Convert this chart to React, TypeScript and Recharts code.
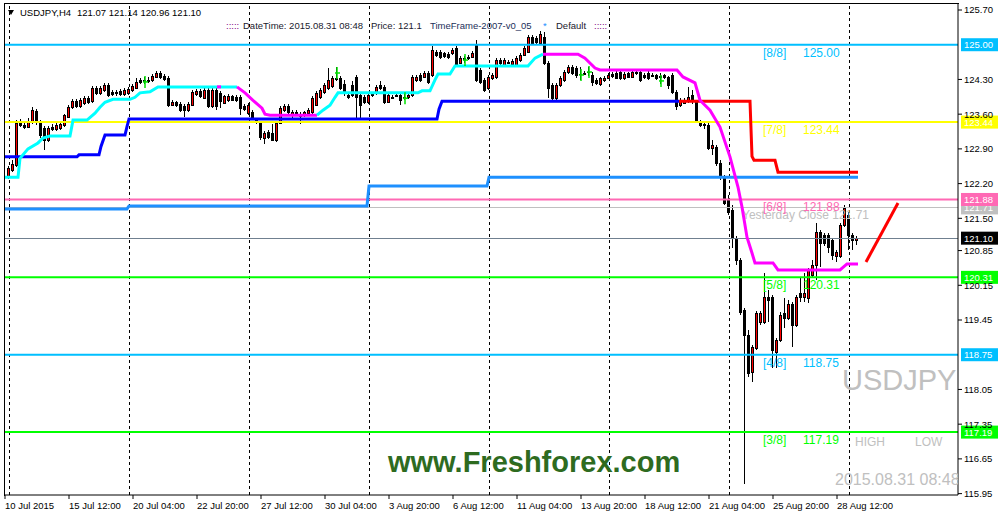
import React from 'react';
import { ComposedChart, Bar, Line, Scatter, XAxis, YAxis, ReferenceLine } from 'recharts';

const FONT = '"Liberation Sans", Arial, sans-serif';

// H4 bars, index 0 = Mon 13 Jul 00:00 ... 212 = Mon 31 Aug 08:00
// [open, high, low, close]
const ohlc: [number, number, number, number][] = [
  // week 13 Jul
  [122.33, 122.55, 122.29, 122.51], [122.47, 122.67, 122.43, 122.59], [122.57, 123.48, 122.53, 123.42],
  [123.42, 123.50, 123.34, 123.38], [123.38, 123.44, 123.30, 123.34], [123.34, 123.52, 123.32, 123.44],
  [123.44, 123.74, 123.40, 123.68], [123.66, 123.70, 123.38, 123.44], [123.44, 123.48, 123.12, 123.18],
  [123.32, 123.36, 122.88, 123.08], [123.08, 123.36, 123.04, 123.32], [123.34, 123.40, 123.26, 123.30],
  [123.30, 123.42, 123.26, 123.38], [123.32, 123.44, 123.28, 123.40], [123.38, 123.60, 123.34, 123.58],
  [123.54, 123.78, 123.52, 123.74], [123.74, 123.90, 123.70, 123.86], [123.86, 123.90, 123.72, 123.76],
  [123.76, 123.92, 123.72, 123.88], [123.82, 123.96, 123.78, 123.92], [123.92, 123.96, 123.80, 123.84],
  [123.86, 124.17, 123.82, 124.13], [124.13, 124.17, 123.98, 124.03], [124.03, 124.17, 123.98, 124.13],
  [124.09, 124.23, 124.05, 124.19], [124.19, 124.23, 123.94, 123.98], [124.05, 124.09, 123.96, 124.01],
  [124.03, 124.09, 123.96, 124.05], [124.07, 124.11, 123.96, 124.01], [124.01, 124.13, 123.96, 124.09],
  // week 20 Jul
  [124.03, 124.15, 123.98, 124.11], [124.09, 124.21, 124.05, 124.17], [124.13, 124.33, 124.11, 124.25],
  [124.29, 124.33, 124.21, 124.25], [124.27, 124.35, 124.21, 124.29], [124.29, 124.35, 124.23, 124.27],
  [124.29, 124.41, 124.25, 124.37], [124.35, 124.47, 124.33, 124.43], [124.43, 124.47, 124.31, 124.35],
  [124.37, 124.41, 124.27, 124.31], [124.33, 124.37, 123.74, 123.78], [123.78, 123.88, 123.76, 123.84],
  [123.84, 123.86, 123.74, 123.78], [123.80, 123.84, 123.64, 123.68], [123.76, 123.80, 123.54, 123.68],
  [123.68, 123.84, 123.64, 123.80], [123.78, 124.09, 123.76, 124.05], [124.01, 124.11, 123.96, 124.07],
  [124.07, 124.11, 123.92, 123.96], [123.92, 124.13, 123.90, 124.09], [124.09, 124.13, 123.72, 123.76],
  [123.76, 124.13, 123.72, 124.09], [124.09, 124.13, 123.68, 123.76], [124.03, 124.07, 123.72, 123.86],
  [123.82, 123.98, 123.80, 123.96], [123.88, 124.01, 123.84, 123.96], [123.96, 123.98, 123.86, 123.88],
  [123.94, 123.98, 123.84, 123.88], [123.94, 123.98, 123.58, 123.72], [123.76, 123.80, 123.66, 123.70],
  // week 27 Jul
  [123.62, 123.82, 123.58, 123.78], [123.64, 123.68, 123.48, 123.52], [123.48, 123.52, 123.40, 123.46],
  [123.42, 123.46, 123.08, 123.14], [123.12, 123.26, 123.00, 123.22], [123.24, 123.28, 123.10, 123.14],
  [123.22, 123.40, 123.06, 123.08], [123.08, 123.46, 123.04, 123.42], [123.42, 123.76, 123.40, 123.72],
  [123.68, 123.80, 123.64, 123.76], [123.76, 123.80, 123.60, 123.64], [123.58, 123.68, 123.48, 123.64],
  [123.64, 123.68, 123.56, 123.60], [123.58, 123.64, 123.40, 123.56], [123.58, 123.66, 123.54, 123.64],
  [123.62, 123.72, 123.58, 123.68], [123.64, 123.96, 123.60, 123.92], [123.78, 124.07, 123.76, 124.03],
  [123.94, 124.13, 123.90, 124.09], [124.05, 124.23, 124.01, 124.19], [124.13, 124.53, 124.09, 124.29],
  [124.17, 124.37, 124.13, 124.33], [124.33, 124.55, 124.27, 124.31], [124.33, 124.37, 124.09, 124.13],
  [124.21, 124.29, 123.96, 124.03], [123.98, 124.03, 123.90, 123.94], [124.19, 124.27, 123.94, 123.98],
  [124.35, 124.39, 123.52, 123.94], [123.98, 124.03, 123.52, 123.78], [123.94, 123.98, 123.80, 123.84],
  // week 3 Aug
  [123.84, 124.03, 123.80, 123.98], [123.98, 124.05, 123.94, 124.01], [124.03, 124.19, 123.98, 124.15],
  [124.19, 124.27, 124.09, 124.13], [124.15, 124.19, 123.80, 123.84], [123.84, 124.03, 123.82, 123.98],
  [123.94, 123.98, 123.90, 123.92], [123.96, 124.03, 123.94, 123.98], [123.98, 124.03, 123.78, 123.88],
  [123.94, 124.03, 123.88, 123.93], [123.94, 124.03, 123.90, 123.98], [123.98, 124.39, 123.94, 124.35],
  [124.29, 124.39, 124.25, 124.35], [124.39, 124.43, 124.25, 124.29], [124.35, 124.47, 124.33, 124.43],
  [124.43, 124.47, 124.21, 124.25], [124.39, 124.97, 124.35, 124.89], [124.85, 124.89, 124.75, 124.79],
  [124.85, 124.89, 124.71, 124.75], [124.83, 124.85, 124.73, 124.77], [124.81, 124.85, 124.71, 124.75],
  [124.83, 124.93, 124.79, 124.89], [124.93, 124.97, 124.55, 124.59], [124.63, 124.77, 124.61, 124.73],
  [124.73, 124.77, 124.63, 124.71], [124.75, 124.79, 124.69, 124.73], [124.75, 124.87, 124.73, 124.83],
  [125.01, 125.09, 124.25, 124.29], [124.49, 124.53, 124.21, 124.25], [124.29, 124.33, 124.05, 124.09],
  // week 10 Aug
  [124.13, 124.39, 124.09, 124.35], [124.33, 124.43, 124.29, 124.39], [124.35, 124.73, 124.31, 124.69],
  [124.69, 124.73, 124.59, 124.63], [124.59, 124.73, 124.57, 124.69], [124.63, 124.69, 124.61, 124.65],
  [124.61, 124.71, 124.59, 124.67], [124.59, 124.77, 124.57, 124.73], [124.69, 124.83, 124.65, 124.79],
  [124.79, 124.97, 124.77, 124.93], [124.85, 125.19, 124.83, 125.15], [125.15, 125.19, 124.99, 125.03],
  [125.13, 125.17, 125.01, 125.05], [125.03, 125.28, 124.99, 125.21], [125.15, 125.26, 124.59, 124.63],
  [124.63, 124.67, 123.92, 124.13], [124.19, 124.23, 123.84, 123.92], [123.92, 124.23, 123.88, 124.19],
  [124.19, 124.37, 124.15, 124.33], [124.29, 124.49, 124.25, 124.45], [124.45, 124.59, 124.41, 124.55],
  [124.55, 124.59, 124.39, 124.43], [124.53, 124.57, 124.33, 124.39], [124.41, 124.55, 124.29, 124.40],
  [124.41, 124.47, 124.39, 124.43], [124.45, 124.55, 124.37, 124.44], [124.39, 124.45, 124.17, 124.25],
  [124.29, 124.33, 124.19, 124.23], [124.21, 124.35, 124.17, 124.33], [124.29, 124.37, 124.25, 124.33],
  // week 17 Aug
  [124.33, 124.43, 124.31, 124.39], [124.41, 124.45, 124.33, 124.37], [124.43, 124.47, 124.31, 124.33],
  [124.45, 124.49, 124.29, 124.33], [124.33, 124.45, 124.29, 124.41], [124.43, 124.45, 124.33, 124.35],
  [124.35, 124.47, 124.33, 124.45], [124.45, 124.49, 124.39, 124.43], [124.45, 124.49, 124.25, 124.29],
  [124.39, 124.43, 124.31, 124.35], [124.43, 124.47, 124.29, 124.33], [124.39, 124.43, 124.35, 124.37],
  [124.39, 124.41, 124.29, 124.33], [124.35, 124.43, 124.21, 124.36], [124.39, 124.41, 124.31, 124.35],
  [124.35, 124.37, 124.11, 124.19], [124.39, 124.43, 124.01, 124.05], [124.05, 124.09, 123.68, 123.76],
  [123.78, 123.92, 123.74, 123.88], [123.82, 123.92, 123.80, 123.88], [123.88, 124.15, 123.82, 123.94],
  [123.98, 124.09, 123.80, 123.86], [123.84, 123.88, 123.42, 123.48], [123.44, 123.48, 123.34, 123.38],
  [123.40, 123.44, 123.30, 123.38], [123.38, 123.42, 122.88, 122.92], [122.92, 123.08, 122.78, 122.98],
  [122.94, 122.98, 122.55, 122.61], [122.61, 122.67, 122.27, 122.33], [122.33, 122.37, 121.77, 121.81],
  // week 24 Aug
  [121.87, 121.97, 121.56, 121.63], [121.67, 121.77, 120.90, 121.10], [121.10, 121.14, 120.56, 120.66],
  [120.66, 120.70, 119.55, 119.61], [119.65, 119.69, 116.14, 119.15], [119.15, 119.25, 118.30, 118.38],
  [118.40, 118.95, 118.20, 118.90], [118.88, 119.63, 118.84, 119.59], [119.41, 119.63, 119.35, 119.59],
  [119.41, 120.40, 119.37, 119.91], [119.91, 120.05, 119.41, 119.85], [119.91, 119.95, 118.48, 118.84],
  [118.80, 119.09, 118.48, 119.05], [119.05, 119.61, 119.01, 119.55], [119.59, 119.89, 119.29, 119.49],
  [119.49, 119.85, 119.45, 119.77], [119.77, 119.81, 118.90, 119.35], [119.35, 119.95, 119.31, 119.91],
  [119.99, 120.32, 119.81, 119.91], [119.91, 120.40, 119.81, 119.99], [119.89, 120.50, 119.79, 120.46],
  [120.36, 120.66, 120.32, 120.56], [120.56, 121.40, 120.26, 121.22], [121.22, 121.26, 120.52, 121.00],
  [121.16, 121.20, 120.94, 121.00], [121.16, 121.20, 120.80, 120.92], [121.06, 121.10, 120.66, 120.76],
  [120.74, 120.86, 120.62, 120.82], [120.74, 121.40, 120.70, 121.36], [121.36, 121.77, 121.32, 121.71],
  // 31 Aug
  [121.56, 121.63, 120.86, 121.16], [121.16, 121.20, 120.86, 121.06], [121.07, 121.14, 120.96, 121.10],
];

// indicator lines as [bar index, price]
const trendUp: [number, number][] = [
  [-1, 122.74], [17, 122.74], [17.5, 122.78], [22.5, 122.78], [23, 122.95], [24, 123.18], [29, 123.18],
  [29.5, 123.35], [30, 123.5], [107, 123.5], [107.5, 123.7], [108.25, 123.86], [167.5, 123.86],
];
const trendDown: [number, number][] = [
  [167.5, 123.86], [185.25, 123.86], [185.75, 122.75], [186.25, 122.67], [191.5, 122.67],
  [192.25, 122.43], [212.25, 122.43],
];
const stopLine: [number, number][] = [
  [-1, 121.69], [29.5, 121.69], [30, 121.75], [89.5, 121.75], [90, 122.15], [119.5, 122.15],
  [120, 122.33], [212.25, 122.33],
];
const cyan1: [number, number][] = [
  [-1, 122.33], [2.25, 122.33], [2.75, 122.71], [4.75, 122.9], [7.25, 123.02], [8.5, 123.12],
  [10.25, 123.16], [15.25, 123.16], [16, 123.48], [19.5, 123.48], [21.5, 123.62], [22.75, 123.74],
  [24, 123.84], [26, 123.9], [30.25, 123.9], [31.5, 123.94], [32.75, 124.03], [35.25, 124.05],
  [37.25, 124.15], [57, 124.15],
];
const magenta0: [number, number][] = [[52, 124.15], [53, 124.15]];
const magenta1: [number, number][] = [
  [57, 124.15], [59, 124.03], [61, 123.88], [63.25, 123.72], [64, 123.6], [65.25, 123.58], [77, 123.58],
];
const cyan2: [number, number][] = [
  [77, 123.58], [78.5, 123.68], [80.25, 123.78], [81.5, 123.94], [82.25, 124.03], [102.25, 124.03],
  [103.25, 124.07], [105.25, 124.07], [106.5, 124.29], [107.25, 124.41], [110.25, 124.41],
  [111.5, 124.57], [129.75, 124.57], [131.5, 124.73], [133.5, 124.81],
];
const magenta2: [number, number][] = [
  [133.5, 124.81], [142.25, 124.81], [144, 124.73], [146.5, 124.53], [147.75, 124.49], [167, 124.49],
  [168.5, 124.35], [171.5, 124.23], [172.75, 123.88], [175.25, 123.68], [177.75, 123.34],
  [180.25, 122.74], [182.25, 122.13], [183.25, 121.73], [184.5, 121.12], [185.75, 120.8],
  [186.5, 120.6], [191, 120.6], [192.25, 120.46], [207.75, 120.46], [209.5, 120.58], [212.25, 120.58],
];
const forecast: [number, number][] = [[214.25, 120.62], [222.25, 121.81]];
const signalMarks: [number, number][] = [
  [34, 124.25], [82, 124.43], [99, 123.92], [114, 124.69], [143, 124.39], [145, 124.45], [163, 124.27],
];

const murreyPrices = [125.0, 123.44, 121.88, 120.31, 118.75, 117.19];
const murreyTags = ['[8/8]', '[7/8]', '[6/8]', '[5/8]', '[4/8]', '[3/8]'];
const yesterdayClose = 121.71;
const lastPrice = 121.1;

const weekStarts = [0, 30, 60, 90, 120, 150, 180, 210];
const xTickIdx = [-1, 15, 31, 47, 63, 79, 95, 111, 127, 143, 159, 175, 191, 207];
const xTickLabels = [
  '10 Jul 2015', '15 Jul 12:00', '20 Jul 04:00', '22 Jul 20:00', '27 Jul 12:00', '30 Jul 04:00',
  '3 Aug 20:00', '6 Aug 12:00', '11 Aug 04:00', '13 Aug 20:00', '18 Aug 12:00', '21 Aug 04:00',
  '25 Aug 20:00', '28 Aug 12:00',
];
const yTicks = [125.7, 124.3, 123.6, 122.9, 122.2, 121.5, 120.85, 120.15, 119.45, 118.05, 117.35, 116.65, 115.95];

const murreyColors = ['#00bfff', '#ffff00', '#ff69b4', '#00ff00', '#00bfff', '#00ff00'];

const candleData = ohlc.map(([o, h, l, c], i) => ({ i, o, h, l, c, range: [l, h] }));
const pts = (a: [number, number][]) => a.map(([i, p]) => ({ i, p }));

const Candle = (props: any) => {
  const { x, y, width, height, payload } = props;
  if (!payload || x == null || y == null) return null;
  const { o, h, l, c } = payload;
  const span = h - l || 1;
  const py = (v: number) => y + ((h - v) / span) * height;
  const cx = Math.floor(x + width / 2) + 0.5;
  const top = Math.round(py(Math.max(o, c)));
  const bot = Math.round(py(Math.min(o, c)));
  return (
    <g>
      <line x1={cx} x2={cx} y1={Math.round(y)} y2={Math.round(y + height)} stroke="#000" strokeWidth={1} />
      {bot - top < 1 ? (
        <line x1={cx - 1.5} x2={cx + 1.5} y1={top + 0.5} y2={top + 0.5} stroke="#000" strokeWidth={1} />
      ) : (
        <rect x={cx - 1} y={top + 0.5} width={2} height={bot - top} fill={c > o ? '#ff0000' : '#000'} stroke="#000" strokeWidth={1} />
      )}
    </g>
  );
};

const SignalMark = (props: any) => {
  const { cx, cy } = props;
  if (cx == null || cy == null) return null;
  return (
    <g stroke="#00e000" strokeWidth={1.5}>
      <line x1={cx} x2={cx} y1={cy - 6} y2={cy + 6} />
      <line x1={cx - 2} x2={cx + 3} y1={cy} y2={cy} />
    </g>
  );
};

const PriceTag = (props: any) => {
  const { viewBox, box, textColor = '#fff', tag, tagColor, tagX, note } = props;
  if (!viewBox) return null;
  const y = viewBox.y;
  const right = viewBox.x + viewBox.width;
  return (
    <g fontFamily={FONT}>
      {note && <text x={tagX} y={y + 11} fontSize={12} fill="#c0c0c0">{note}</text>}
      {tag && (
        <>
          <text x={right - 195} y={y + 12} fontSize={12} fill={tagColor}>{tag[0]}</text>
          <text x={right - 155} y={y + 12} fontSize={12} fill={tagColor}>{tag[1]}</text>
        </>
      )}
      <rect x={right + 3} y={y - 6.5} width={37} height={13} fill={box} />
      <text x={right + 6} y={y + 3.5} fontSize={9.5} fill={textColor}>{props.label}</text>
    </g>
  );
};

const XTick = (props: any) => {
  const { x, y, payload } = props;
  const k = xTickIdx.indexOf(payload.value);
  return (
    <text x={x} y={y + 8} fontSize={9.5} fill="#000" fontFamily={FONT} textAnchor="start">
      {k >= 0 ? xTickLabels[k] : ''}
    </text>
  );
};

export default function App() {
  return (
    <div style={{ position: 'absolute', left: 0, top: 0, width: 1001, height: 516, background: '#fff' }}>
      <ComposedChart width={1001} height={516} data={candleData} margin={{ top: 4, right: 0, bottom: 0, left: 5 }}>
        <XAxis
          dataKey="i"
          type="number"
          domain={[-1, 237.25]}
          allowDataOverflow
          ticks={xTickIdx}
          interval={0}
          height={21}
          tickSize={4}
          axisLine={{ stroke: '#000' }}
          tickLine={{ stroke: '#000' }}
          tick={<XTick />}
        />
        <YAxis
          orientation="right"
          type="number"
          domain={[115.922, 125.821]}
          allowDataOverflow
          ticks={yTicks}
          interval={0}
          width={43}
          tickSize={4}
          tickMargin={2}
          tickFormatter={(v: number) => v.toFixed(2)}
          axisLine={{ stroke: '#000' }}
          tickLine={{ stroke: '#000' }}
          tick={{ fontSize: 9.5, fill: '#000', fontFamily: FONT }}
        />
        {weekStarts.map((w) => (
          <ReferenceLine key={'w' + w} x={w} stroke="#000" strokeDasharray="3 3" strokeWidth={1} shapeRendering="crispEdges" />
        ))}
        <ReferenceLine y={yesterdayClose} stroke="#c0c0c0" strokeWidth={1} shapeRendering="crispEdges"
          label={<PriceTag box="#c0c0c0" label={yesterdayClose.toFixed(2)} note={'Yesterday Close ' + yesterdayClose.toFixed(2)} tagX={742} />} />
        <ReferenceLine y={lastPrice} stroke="#708090" strokeWidth={1} shapeRendering="crispEdges"
          label={<PriceTag box="#000" label={lastPrice.toFixed(2)} />} />
        {murreyPrices.map((p, k) => (
          <ReferenceLine key={'m' + k} y={p} stroke={murreyColors[k]} strokeWidth={2}
            label={<PriceTag box={murreyColors[k]} label={p.toFixed(2)} tag={[murreyTags[k], p.toFixed(2)]} tagColor={murreyColors[k]} />} />
        ))}
        <Bar dataKey="range" barSize={3} shape={(p: any) => <Candle {...p} />} isAnimationActive={false} />
        <Line data={pts(stopLine)} dataKey="p" type="linear" stroke="#1e90ff" strokeWidth={3} dot={false} isAnimationActive={false} />
        <Line data={pts(trendUp)} dataKey="p" type="linear" stroke="#0000ff" strokeWidth={3} dot={false} isAnimationActive={false} />
        <Line data={pts(trendDown)} dataKey="p" type="linear" stroke="#ff0000" strokeWidth={3} dot={false} isAnimationActive={false} />
        <Line data={pts(cyan1)} dataKey="p" type="linear" stroke="#00ffff" strokeWidth={3} dot={false} isAnimationActive={false} />
        <Line data={pts(magenta0)} dataKey="p" type="linear" stroke="#ff00ff" strokeWidth={3} dot={false} isAnimationActive={false} />
        <Line data={pts(magenta1)} dataKey="p" type="linear" stroke="#ff00ff" strokeWidth={3} dot={false} isAnimationActive={false} />
        <Line data={pts(cyan2)} dataKey="p" type="linear" stroke="#00ffff" strokeWidth={3} dot={false} isAnimationActive={false} />
        <Line data={pts(magenta2)} dataKey="p" type="linear" stroke="#ff00ff" strokeWidth={3} dot={false} isAnimationActive={false} />
        <Line data={pts(forecast)} dataKey="p" type="linear" stroke="#ff0000" strokeWidth={3} dot={false} isAnimationActive={false} />
        <Scatter data={pts(signalMarks)} dataKey="p" shape={(p: any) => <SignalMark {...p} />} isAnimationActive={false} />
      </ComposedChart>

      <div style={{ position: 'absolute', left: 4, top: 3, width: 954, height: 492, borderTop: '1px solid #000', borderLeft: '1px solid #000', pointerEvents: 'none' }} />

      <svg width={958} height={516} style={{ position: 'absolute', left: 0, top: 0, pointerEvents: 'none' }} fontFamily={FONT}>
        <polygon points="8,10 14,10 11,15" fill="#000" />
        <text x={20} y={16} fontSize={9.5} fill="#000">USDJPY,H4</text>
        <text x={77} y={16} fontSize={9.5} fill="#000">121.07 121.14 120.96 121.10</text>
        <text x={226} y={29} fontSize={9.5} fill="#800080">:::::</text>
        <text x={243} y={29} fontSize={9.5} fill="#1a1a2e">DateTime: 2015.08.31 08:48</text>
        <text x={371} y={29} fontSize={9.5} fill="#1a1a2e">Price: 121.1</text>
        <text x={430} y={29} fontSize={9.5} fill="#1c2f5a">TimeFrame-2007-v0_05</text>
        <text x={543} y={29} fontSize={9.5} fill="#1e90ff">*</text>
        <text x={556} y={29} fontSize={9.5} fill="#1a1a2e">Default</text>
        <text x={594} y={29} fontSize={9.5} fill="#800080">:::::</text>
        <text x={842} y={390} fontSize={29} fill="#c0c0c0">USDJPY</text>
        <text x={855} y={446} fontSize={12} fill="#c0c0c0">HIGH</text>
        <text x={915} y={446} fontSize={12} fill="#c0c0c0">LOW</text>
        <text x={835} y={485} fontSize={16} fill="#c0c0c0">2015.08.31 08:48</text>
        <text x={388} y={472} fontSize={29} fontWeight="bold" fill="#2e6b1f">www.Freshforex.com</text>
      </svg>
    </div>
  );
}
